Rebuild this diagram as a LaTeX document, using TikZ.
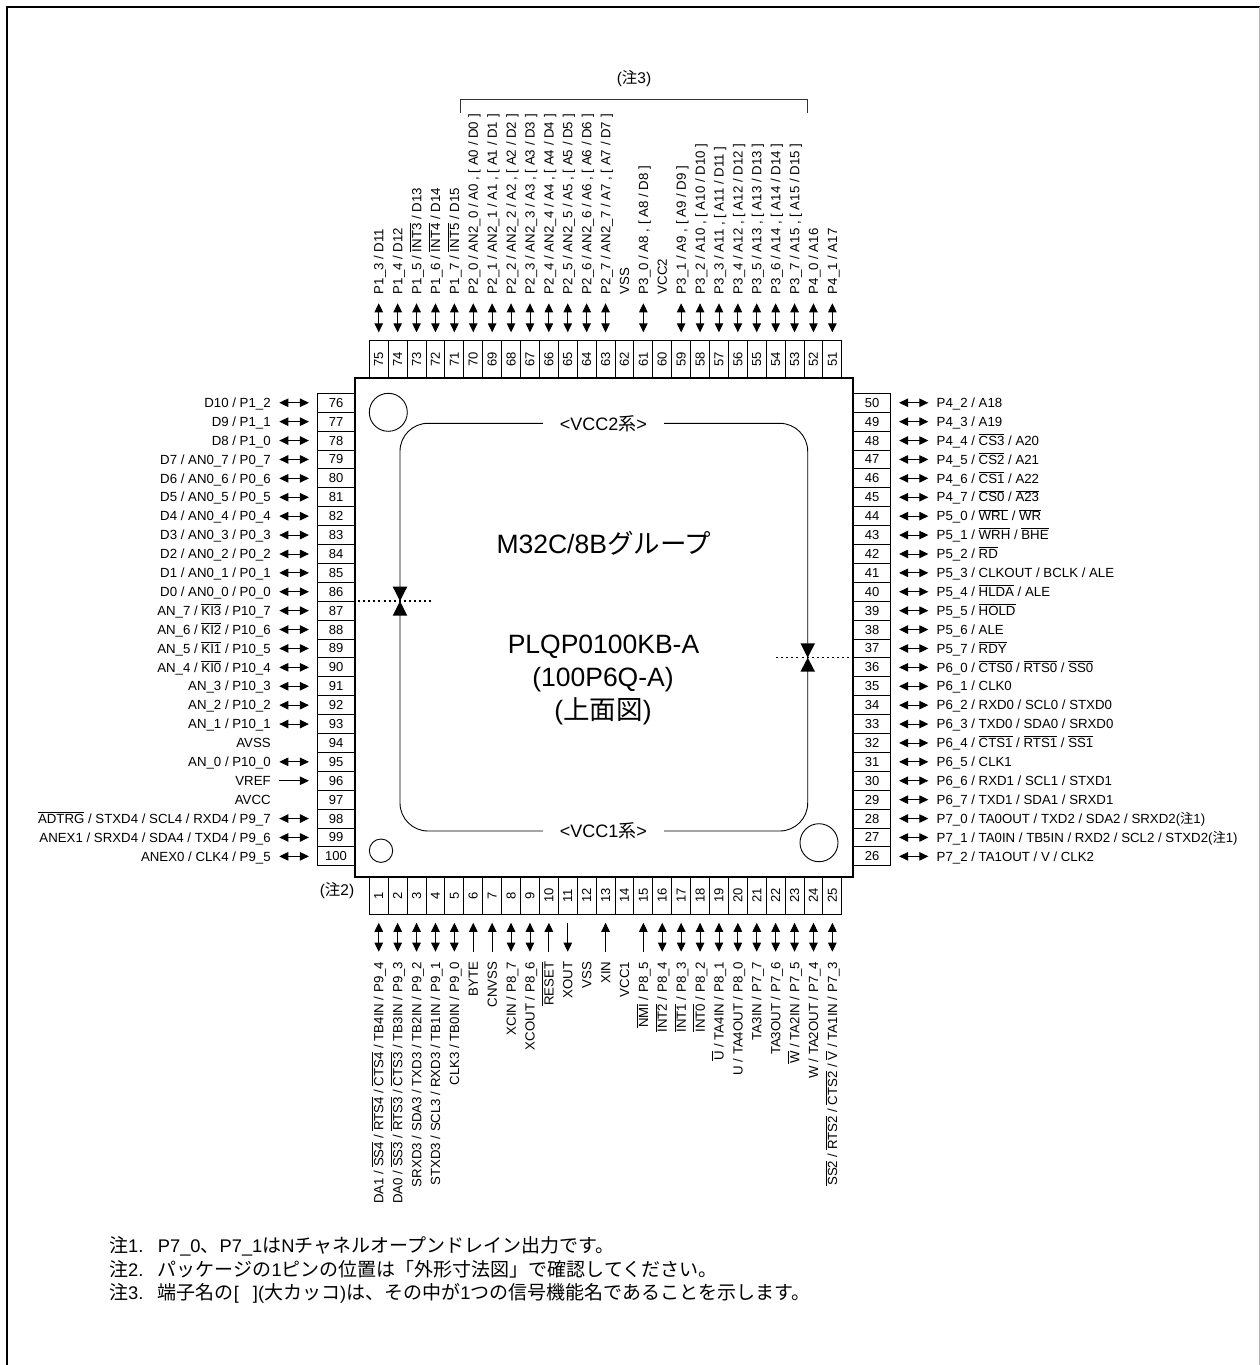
\documentclass[tikz,border=0pt]{standalone}
\usepackage{fontspec}
\setmainfont{Liberation Sans}
\newfontfamily\cjkfont{Noto Sans CJK JP}
\usetikzlibrary{arrows.meta}
\newcommand\jp[1]{{\cjkfont #1}}
\newcommand\jn[1]{{\cjkfont\fontsize{19}{21}\selectfont #1}}
\newcommand\ovl[1]{\leavevmode\vbox{\hrule height 0.7pt\kern 1.5pt\hbox{#1}}}
\catcode`\_=12
\tikzset{
  pinbox/.style={draw=black,line width=0.9pt,inner sep=0pt,outer sep=0pt,font=\fontsize{13}{15}\selectfont},
  lab/.style={inner sep=0pt,outer sep=0pt,font=\fontsize{13.25}{15}\selectfont},
  marklab/.style={inner sep=0pt,outer sep=0pt,font=\fontsize{15.5}{18}\selectfont},
  dbl/.style={line width=0.9pt,{Triangle[length=9pt,width=8.5pt]}-{Triangle[length=9pt,width=8.5pt]},shorten >=8.35pt},
  into/.style={line width=0.9pt,-{Triangle[length=9pt,width=8.5pt]},shorten >=8.35pt},
  outof/.style={line width=0.9pt,{Triangle[length=9pt,width=8.5pt]}-,shorten >=8.35pt},
  big/.style={inner sep=0pt,font=\fontsize{26.5}{30}\selectfont},
  corelab/.style={inner sep=0pt,font=\fontsize{18}{20}\selectfont},
  note/.style={inner sep=0pt,anchor=base west,font=\fontsize{18.3}{21}\selectfont},
  divider/.style={line width=1.4pt,dash pattern=on 2pt off 3.1pt},
  tri/.style={fill=black,draw=none}
}
% pin macros: number, arrow style (may be empty), label
\newcommand\LP[3]{%
  \pgfmathsetmacro\yy{402.75+(#1-76)*18.9}%
  \node[pinbox,minimum width=37.5pt,minimum height=18.9pt] (p#1) at (336,\yy) {#1};
  \node[lab,anchor=base east] (l#1) at (270.7,\yy+4.7) {#3};
  \ifx\relax#2\relax\else
    \coordinate (c#1) at (279.3,\yy);
    \draw[#2] (c#1) -- (p#1);
  \fi}
\newcommand\RP[3]{%
  \pgfmathsetmacro\yy{402.75+(50-#1)*18.9}%
  \node[pinbox,minimum width=37.5pt,minimum height=18.9pt] (p#1) at (872,\yy) {#1};
  \node[lab,anchor=base west] (l#1) at (936.7,\yy+4.7) {#3};
  \ifx\relax#2\relax\else
    \coordinate (c#1) at (928.3,\yy);
    \draw[#2] (c#1) -- (p#1);
  \fi}
\newcommand\TP[3]{%
  \pgfmathsetmacro\xx{378.75+(75-#1)*18.9}%
  \node[pinbox,rotate=90,minimum width=37.5pt,minimum height=18.9pt] (p#1) at (\xx,359.4) {#1};
  \node[lab,rotate=90,anchor=base west] (l#1) at (\xx+4.7,294) {#3};
  \ifx\relax#2\relax\else
    \coordinate (c#1) at (\xx,303.3);
    \draw[#2] (c#1) -- (p#1);
  \fi}
\newcommand\BP[3]{%
  \pgfmathsetmacro\xx{378.75+(#1-1)*18.9}%
  \node[pinbox,rotate=90,minimum width=37.5pt,minimum height=18.9pt] (p#1) at (\xx,895.65) {#1};
  \node[lab,rotate=90,anchor=base east] (l#1) at (\xx+4.7,961.7) {#3};
  \ifx\relax#2\relax\else
    \coordinate (c#1) at (\xx,951.7);
    \draw[#2] (c#1) -- (p#1);
  \fi}
\begin{document}
\begin{tikzpicture}[x=1pt,y=-1pt]
\useasboundingbox (0,0) rectangle (1260,1365);
\fill[white] (0,0) rectangle (1260,1365);
% page frame
\draw[line width=2pt] (7,1365) -- (7,7) -- (1260,7);
\draw[line width=0.8pt,black!30] (1259.6,7) -- (1259.6,1365);
% top pins
\TP{75}{dbl}{P1_3 / D11}
\TP{74}{dbl}{P1_4 / D12}
\TP{73}{dbl}{P1_5 / \ovl{INT3} / D13}
\TP{72}{dbl}{P1_6 / \ovl{INT4} / D14}
\TP{71}{dbl}{P1_7 / \ovl{INT5} / D15}
\TP{70}{dbl}{P2_0 / AN2_0 / A0 , [ A0 / D0 ]}
\TP{69}{dbl}{P2_1 / AN2_1 / A1 , [ A1 / D1 ]}
\TP{68}{dbl}{P2_2 / AN2_2 / A2 , [ A2 / D2 ]}
\TP{67}{dbl}{P2_3 / AN2_3 / A3 , [ A3 / D3 ]}
\TP{66}{dbl}{P2_4 / AN2_4 / A4 , [ A4 / D4 ]}
\TP{65}{dbl}{P2_5 / AN2_5 / A5 , [ A5 / D5 ]}
\TP{64}{dbl}{P2_6 / AN2_6 / A6 , [ A6 / D6 ]}
\TP{63}{dbl}{P2_7 / AN2_7 / A7 , [ A7 / D7 ]}
\TP{62}{}{VSS}
\TP{61}{dbl}{P3_0 / A8 , [ A8 / D8 ]}
\TP{60}{}{VCC2}
\TP{59}{dbl}{P3_1 / A9 , [ A9 / D9 ]}
\TP{58}{dbl}{P3_2 / A10 , [ A10 / D10 ]}
\TP{57}{dbl}{P3_3 / A11 , [ A11 / D11 ]}
\TP{56}{dbl}{P3_4 / A12 , [ A12 / D12 ]}
\TP{55}{dbl}{P3_5 / A13 , [ A13 / D13 ]}
\TP{54}{dbl}{P3_6 / A14 , [ A14 / D14 ]}
\TP{53}{dbl}{P3_7 / A15 , [ A15 / D15 ]}
\TP{52}{dbl}{P4_0 / A16}
\TP{51}{dbl}{P4_1 / A17}
% left pins
\LP{76}{dbl}{D10 / P1_2}
\LP{77}{dbl}{D9 / P1_1}
\LP{78}{dbl}{D8 / P1_0}
\LP{79}{dbl}{D7 / AN0_7 / P0_7}
\LP{80}{dbl}{D6 / AN0_6 / P0_6}
\LP{81}{dbl}{D5 / AN0_5 / P0_5}
\LP{82}{dbl}{D4 / AN0_4 / P0_4}
\LP{83}{dbl}{D3 / AN0_3 / P0_3}
\LP{84}{dbl}{D2 / AN0_2 / P0_2}
\LP{85}{dbl}{D1 / AN0_1 / P0_1}
\LP{86}{dbl}{D0 / AN0_0 / P0_0}
\LP{87}{dbl}{AN_7 / \ovl{KI3} / P10_7}
\LP{88}{dbl}{AN_6 / \ovl{KI2} / P10_6}
\LP{89}{dbl}{AN_5 / \ovl{KI1} / P10_5}
\LP{90}{dbl}{AN_4 / \ovl{KI0} / P10_4}
\LP{91}{dbl}{AN_3 / P10_3}
\LP{92}{dbl}{AN_2 / P10_2}
\LP{93}{dbl}{AN_1 / P10_1}
\LP{94}{}{AVSS}
\LP{95}{dbl}{AN_0 / P10_0}
\LP{96}{into}{VREF}
\LP{97}{}{AVCC}
\LP{98}{dbl}{\ovl{ADTRG} / STXD4 / SCL4 / RXD4 / P9_7}
\LP{99}{dbl}{ANEX1 / SRXD4 / SDA4 / TXD4 / P9_6}
\LP{100}{dbl}{ANEX0 / CLK4 / P9_5}
% right pins
\RP{50}{dbl}{P4_2 / A18}
\RP{49}{dbl}{P4_3 / A19}
\RP{48}{dbl}{P4_4 / \ovl{CS3} / A20}
\RP{47}{dbl}{P4_5 / \ovl{CS2} / A21}
\RP{46}{dbl}{P4_6 / \ovl{CS1} / A22}
\RP{45}{dbl}{P4_7 / \ovl{CS0} / \ovl{A23}}
\RP{44}{dbl}{P5_0 / \ovl{WRL} / \ovl{WR}}
\RP{43}{dbl}{P5_1 / \ovl{WRH} / \ovl{BHE}}
\RP{42}{dbl}{P5_2 / \ovl{RD}}
\RP{41}{dbl}{P5_3 / CLKOUT / BCLK / ALE}
\RP{40}{dbl}{P5_4 / \ovl{HLDA} / ALE}
\RP{39}{dbl}{P5_5 / \ovl{HOLD}}
\RP{38}{dbl}{P5_6 / ALE}
\RP{37}{dbl}{P5_7 / \ovl{RDY}}
\RP{36}{dbl}{P6_0 / \ovl{CTS0} / \ovl{RTS0} / \ovl{SS0}}
\RP{35}{dbl}{P6_1 / CLK0}
\RP{34}{dbl}{P6_2 / RXD0 / SCL0 / STXD0}
\RP{33}{dbl}{P6_3 / TXD0 / SDA0 / SRXD0}
\RP{32}{dbl}{P6_4 / \ovl{CTS1} / \ovl{RTS1} / \ovl{SS1}}
\RP{31}{dbl}{P6_5 / CLK1}
\RP{30}{dbl}{P6_6 / RXD1 / SCL1 / STXD1}
\RP{29}{dbl}{P6_7 / TXD1 / SDA1 / SRXD1}
\RP{28}{dbl}{P7_0 / TA0OUT / TXD2 / SDA2 / SRXD2(\jp{注}1)}
\RP{27}{dbl}{P7_1 / TA0IN / TB5IN / RXD2 / SCL2 / STXD2(\jp{注}1)}
\RP{26}{dbl}{P7_2 / TA1OUT / V / CLK2}
% bottom pins
\BP{1}{dbl}{DA1 / \ovl{SS4} / \ovl{RTS4} / \ovl{CTS4} / TB4IN / P9_4}
\BP{2}{dbl}{DA0 / \ovl{SS3} / \ovl{RTS3} / \ovl{CTS3} / TB3IN / P9_3}
\BP{3}{dbl}{SRXD3 / SDA3 / TXD3 / TB2IN / P9_2}
\BP{4}{dbl}{STXD3 / SCL3 / RXD3 / TB1IN / P9_1}
\BP{5}{dbl}{CLK3 / TB0IN / P9_0}
\BP{6}{into}{BYTE}
\BP{7}{into}{CNVSS}
\BP{8}{dbl}{XCIN / P8_7}
\BP{9}{dbl}{XCOUT / P8_6}
\BP{10}{into}{\ovl{RESET}}
\BP{11}{outof}{XOUT}
\BP{12}{}{VSS}
\BP{13}{into}{XIN}
\BP{14}{}{VCC1}
\BP{15}{into}{\ovl{NMI} / P8_5}
\BP{16}{dbl}{\ovl{INT2} / P8_4}
\BP{17}{dbl}{\ovl{INT1} / P8_3}
\BP{18}{dbl}{\ovl{INT0} / P8_2}
\BP{19}{dbl}{\ovl{U} / TA4IN / P8_1}
\BP{20}{dbl}{U / TA4OUT / P8_0}
\BP{21}{dbl}{TA3IN / P7_7}
\BP{22}{dbl}{TA3OUT / P7_6}
\BP{23}{dbl}{\ovl{W} / TA2IN / P7_5}
\BP{24}{dbl}{W / TA2OUT / P7_4}
\BP{25}{dbl}{\ovl{SS2} / \ovl{RTS2} / \ovl{CTS2} / \ovl{V} / TA1IN / P7_3}
% chip body
\draw[fill=white,line width=1.6pt] (355,378) rectangle (853,877);
% pin-1 marks
\draw[line width=0.9pt] (388.3,412.3) circle (19);
\draw[line width=0.9pt] (381,850.7) circle (11.7);
\draw[line width=0.9pt] (819,842.7) circle (19);
% power-domain boundary
\draw[line width=0.9pt,rounded corners=28pt] (400,423.3) rectangle (807.7,831);
\node[corelab,fill=white,minimum width=121.3pt,minimum height=20pt] (vcc2) at (603.4,423.3) {<VCC2\jp{系}>};
\node[corelab,fill=white,minimum width=121.3pt,minimum height=20pt] (vcc1) at (603.4,831) {<VCC1\jp{系}>};
% domain dividers
\fill[tri] (392.7,586.7) -- (407.3,586.7) -- (400,601) -- cycle;
\fill[tri] (392.7,615.7) -- (407.3,615.7) -- (400,601) -- cycle;
\draw[divider] (358,601) -- (431.7,601);
\fill[tri] (800.4,643.3) -- (815,643.3) -- (807.7,657.7) -- cycle;
\fill[tri] (800.4,671.7) -- (815,671.7) -- (807.7,657.7) -- cycle;
\draw[divider] (776,657.7) -- (853,657.7);
% titles
\node[big] (t1) at (604,543) {M32C/8B\jp{グループ}};
\node[big] (t2) at (603.5,647) {PLQP0100KB-A};
\node[big] (t3) at (603,680) {(100P6Q-A)};
\node[big] (t4) at (603,711) {(\jp{上面図})};
% brackets and notes
\draw[line width=0.9pt,black!80] (460.3,113.3) -- (460.3,99) -- (807.7,99) -- (807.7,113.3);
\node[marklab] (n3) at (634,79) {(\jp{注}3)};
\node[marklab] (n2) at (337,890.7) {(\jp{注}2)};
\node[note] (f1) at (109,1252.5) {\makebox[48.7pt][l]{\jn{注}1.}P7_0\jn{、}P7_1\jn{は}N\jn{チャネルオープンドレイン出力です。}};
\node[note] (f2) at (109,1276) {\makebox[48.7pt][l]{\jn{注}2.}\jn{パッケージの}1\jn{ピンの位置は「外形寸法図」で確認してください。}};
\node[note] (f3) at (109,1299.3) {\makebox[48.7pt][l]{\jn{注}3.}\jn{端子名の}[\hspace{14pt}](\jn{大カッコ})\jn{は、その中が}1\jn{つの信号機能名であることを示します。}};
\end{tikzpicture}
\end{document}
